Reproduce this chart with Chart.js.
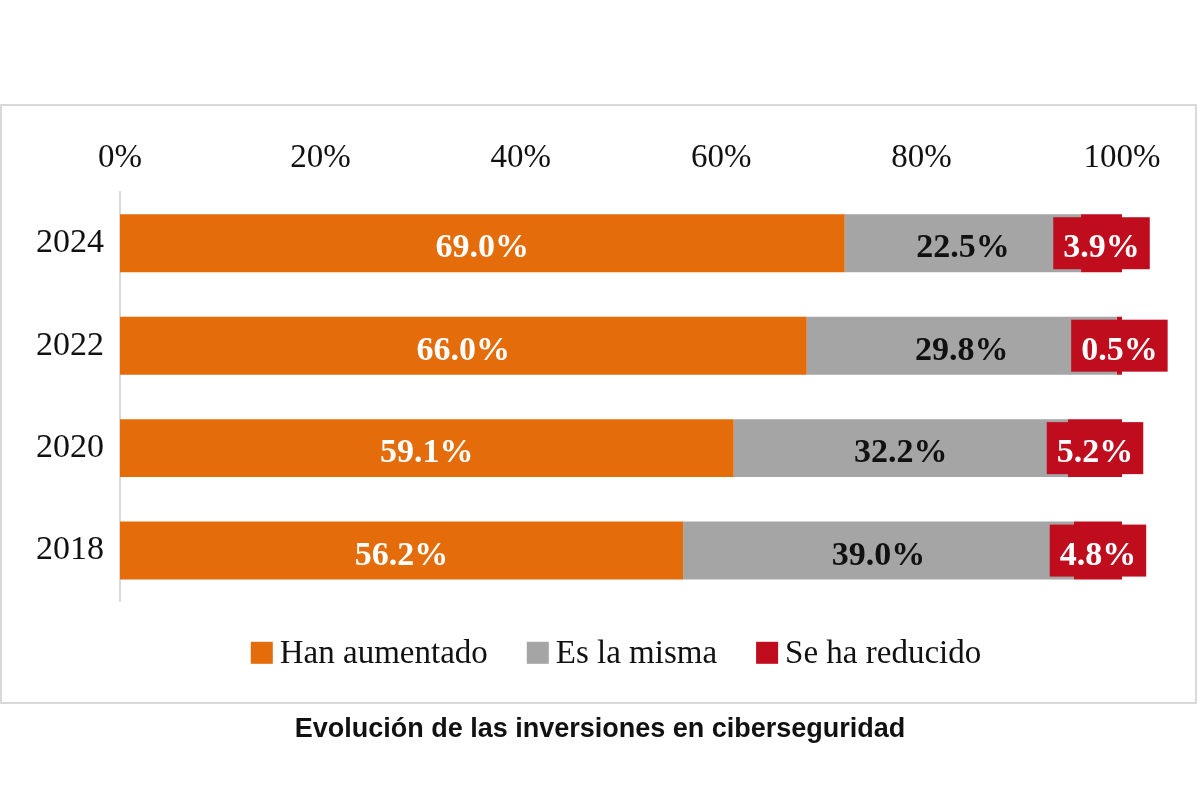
<!DOCTYPE html>
<html>
<head>
<meta charset="utf-8">
<script src="https://cdn.jsdelivr.net/npm/chart.js@4.4.1/dist/chart.umd.min.js"></script>
<style>
  html, body { margin: 0; padding: 0; background: #ffffff; }
  #wrap { width: 1200px; height: 800px; position: relative; }
  canvas { display: block; }
</style>
</head>
<body>
<div id="wrap"><canvas id="c" width="1200" height="800"></canvas></div>
<script>
// ---- Data ----
const categories = ['2024', '2022', '2020', '2018'];
const seriesNames = ['Han aumentado', 'Es la misma', 'Se ha reducido'];
const hanAumentado = [69.0, 66.0, 59.1, 56.2];
const esLaMisma = [22.5, 29.8, 32.2, 39.0];
const seHaReducido = [3.9, 0.5, 5.2, 4.8];
const xTickValues = [0, 20, 40, 60, 80, 100];
const chartTitle = 'Evolución de las inversiones en ciberseguridad';

// ---- Styles ----
const colors = ['#E46C0A', '#A5A5A5', '#C00D1E'];
const labelColors = ['#ffffff', '#111111', '#ffffff'];
const serif = '"Liberation Serif", "DejaVu Serif", serif';

// 100% stacked: each segment drawn as share of its row total
const raw = [hanAumentado, esLaMisma, seHaReducido];
const totals = categories.map((_, i) => raw.reduce((s, arr) => s + arr[i], 0));
const shares = raw.map(arr => arr.map((v, i) => v / totals[i] * 100));

const framePlugin = {
  id: 'frame',
  beforeDraw(chart) {
    const ctx = chart.ctx;
    ctx.save();
    ctx.fillStyle = '#ffffff';
    ctx.fillRect(0, 0, chart.width, chart.height);
    ctx.strokeStyle = '#d9d9d9';
    ctx.lineWidth = 2;
    ctx.strokeRect(1, 105, 1195, 598);
    ctx.restore();
  }
};

const labelPlugin = {
  id: 'segLabels',
  afterDatasetsDraw(chart) {
    const ctx = chart.ctx;
    ctx.save();
    ctx.font = 'bold 34px ' + serif;
    ctx.textAlign = 'center';
    ctx.textBaseline = 'alphabetic';
    chart.data.datasets.forEach((ds, di) => {
      const meta = chart.getDatasetMeta(di);
      meta.data.forEach((bar, i) => {
        const txt = raw[di][i].toFixed(1) + '%';
        const cx = (bar.x + bar.base) / 2;
        const cy = bar.y;
        if (di === 2) {
          const w = ctx.measureText(txt).width + 20;
          const h = bar.height - 6;
          ctx.fillStyle = colors[2];
          ctx.fillRect(cx - w / 2, cy - h / 2, w, h);
        }
        ctx.fillStyle = labelColors[di];
        ctx.fillText(txt, cx, cy + 14);
      });
    });
    ctx.restore();
  }
};

const legendPlugin = {
  id: 'legendRow',
  afterDraw(chart) {
    const ctx = chart.ctx;
    ctx.save();
    ctx.font = '33px ' + serif;
    ctx.textBaseline = 'alphabetic';
    ctx.textAlign = 'left';
    const box = 22, gap = 7, itemGap = 39;
    const names = chart.data.datasets.map(d => d.label);
    const widths = names.map(n => ctx.measureText(n).width);
    const total = widths.reduce((s, w) => s + box + gap + w, 0) + itemGap * (names.length - 1);
    const area = chart.chartArea;
    let x = (area.left + area.right) / 2 - 5 - total / 2;
    const cy = area.bottom + 51;
    names.forEach((n, i) => {
      ctx.fillStyle = chart.data.datasets[i].backgroundColor;
      ctx.fillRect(x, cy - box / 2, box, box);
      x += box + gap;
      ctx.fillStyle = '#111111';
      ctx.fillText(n, x, cy + 10);
      x += widths[i] + itemGap;
    });
    ctx.restore();
  }
};

new Chart(document.getElementById('c'), {
  type: 'bar',
  data: {
    labels: categories,
    datasets: seriesNames.map((name, k) => ({
      label: name,
      data: shares[k],
      backgroundColor: colors[k],
      borderWidth: 0,
      barPercentage: 0.566,
      categoryPercentage: 1.0
    }))
  },
  options: {
    indexAxis: 'y',
    responsive: false,
    devicePixelRatio: 1,
    animation: false,
    layout: { padding: { left: 0, right: 0, top: 0, bottom: 0 } },
    plugins: {
      legend: { display: false },
      tooltip: { enabled: false },
      title: {
        display: true,
        position: 'bottom',
        text: chartTitle,
        color: '#111111',
        font: { family: '"Liberation Sans", Arial, sans-serif', size: 27, weight: 'bold' },
        padding: { top: 111.8, bottom: 54.0 }
      }
    },
    scales: {
      x: {
        position: 'top',
        stacked: true,
        min: 0,
        max: 100,
        afterBuildTicks: s => { s.ticks = xTickValues.map(v => ({ value: v })); },
        afterFit: s => { s.height = 192; },
        ticks: {
          callback: v => v + '%',
          color: '#111111',
          font: { family: serif, size: 33 },
          padding: 14,
          maxRotation: 0
        },
        grid: { display: false, drawTicks: false },
        border: { display: false }
      },
      y: {
        stacked: true,
        afterFit: s => { s.width = 120; },
        ticks: {
          color: '#111111',
          font: { family: serif, size: 34 },
          padding: 16
        },
        grid: { display: false, drawTicks: false },
        border: { display: true, color: '#d9d9d9', width: 2 }
      },
      yRight: {
        type: 'linear',
        position: 'right',
        display: true,
        afterFit: s => { s.width = 78; },
        ticks: { display: false },
        grid: { display: false, drawTicks: false },
        border: { display: false }
      }
    }
  },
  plugins: [framePlugin, labelPlugin, legendPlugin]
});
</script>
</body>
</html>
